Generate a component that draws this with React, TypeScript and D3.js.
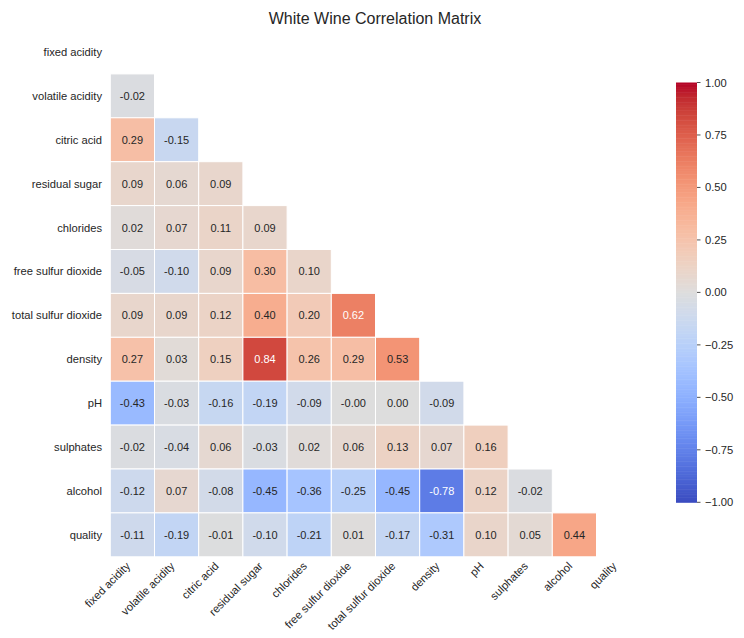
import React from "react";
import * as d3 from "d3";

// Variables of the white wine dataset, in matrix order
const variables: string[] = [
  "fixed acidity",
  "volatile acidity",
  "citric acid",
  "residual sugar",
  "chlorides",
  "free sulfur dioxide",
  "total sulfur dioxide",
  "density",
  "pH",
  "sulphates",
  "alcohol",
  "quality",
];

// Lower-triangle correlation coefficients, row by row (row i has i entries)
const rowVolatileAcidity = [-0.02];
const rowCitricAcid = [0.29, -0.15];
const rowResidualSugar = [0.09, 0.06, 0.09];
const rowChlorides = [0.02, 0.07, 0.11, 0.09];
const rowFreeSulfur = [-0.05, -0.10, 0.09, 0.30, 0.10];
const rowTotalSulfur = [0.09, 0.09, 0.12, 0.40, 0.20, 0.62];
const rowDensity = [0.27, 0.03, 0.15, 0.84, 0.26, 0.29, 0.53];
const rowPH = [-0.43, -0.03, -0.16, -0.19, -0.09, -0.0006, 0.002, -0.09];
const rowSulphates = [-0.02, -0.04, 0.06, -0.03, 0.02, 0.06, 0.13, 0.07, 0.16];
const rowAlcohol = [-0.12, 0.07, -0.08, -0.45, -0.36, -0.25, -0.45, -0.78, 0.12, -0.02];
const rowQuality = [-0.11, -0.19, -0.01, -0.10, -0.21, 0.01, -0.17, -0.31, 0.10, 0.05, 0.44];

const lowerRows: number[][] = [
  [],
  rowVolatileAcidity,
  rowCitricAcid,
  rowResidualSugar,
  rowChlorides,
  rowFreeSulfur,
  rowTotalSulfur,
  rowDensity,
  rowPH,
  rowSulphates,
  rowAlcohol,
  rowQuality,
];

const colorbarTicks: number[] = [1, 0.75, 0.5, 0.25, 0, -0.25, -0.5, -0.75, -1];

// Diverging "coolwarm" palette control points (Moreland)
const coolwarmStops: [number, number, number][] = [
  [59, 76, 192], [68, 90, 204], [77, 104, 215], [87, 117, 225],
  [98, 130, 234], [108, 142, 241], [119, 154, 247], [130, 165, 251],
  [141, 176, 254], [152, 185, 255], [163, 194, 255], [174, 201, 253],
  [184, 208, 249], [194, 213, 244], [204, 217, 238], [213, 219, 230],
  [221, 221, 221], [229, 216, 209], [236, 211, 197], [241, 204, 185],
  [245, 196, 173], [247, 187, 160], [247, 177, 148], [247, 166, 135],
  [244, 154, 123], [241, 141, 111], [236, 127, 99], [229, 112, 88],
  [222, 96, 77], [213, 80, 66], [203, 62, 56], [192, 40, 47],
  [180, 4, 38],
];

const coolwarm = d3
  .scaleLinear<string>()
  .domain(coolwarmStops.map((_, i) => -1 + (2 * i) / (coolwarmStops.length - 1)))
  .range(coolwarmStops.map(([r, g, b]) => `rgb(${r},${g},${b})`))
  .interpolate(d3.interpolateRgb)
  .clamp(true);

function luminance(color: string): number {
  const c = d3.rgb(color);
  const lin = (v: number) => {
    const s = v / 255;
    return s <= 0.03928 ? s / 12.92 : Math.pow((s + 0.055) / 1.055, 2.4);
  };
  return 0.2126 * lin(c.r) + 0.7152 * lin(c.g) + 0.0722 * lin(c.b);
}

const FONT = "'Liberation Sans', Arial, Helvetica, sans-serif";
const TEXT = "#262626";

export default function App() {
  const width = 744;
  const height = 638;

  const x = d3.scaleBand<string>().domain(variables).range([110.3, 640.7]);
  const y = d3.scaleBand<string>().domain(variables).range([30, 556.8]);

  const cbTop = 82.5;
  const cbBottom = 502.3;
  const cbLeft = 676;
  const cbWidth = 21;
  const cbScale = d3.scaleLinear().domain([-1, 1]).range([cbBottom, cbTop]);
  const cbSteps = d3.range(256).map((i) => -1 + (2 * i) / 255);
  const cbStepH = (cbBottom - cbTop) / 256;
  const cbFormat = d3.format(".2f");

  const cells: { row: string; col: string; value: number }[] = [];
  lowerRows.forEach((vals, i) => {
    vals.forEach((v, j) => {
      cells.push({ row: variables[i], col: variables[j], value: v });
    });
  });

  const bottom = y.range()[1];

  return (
    <div style={{ position: "absolute", left: 0, top: 0 }}>
      <svg width={width} height={height} style={{ display: "block", background: "#fff" }}>
        <text
          x={375}
          y={24}
          textAnchor="middle"
          fontFamily={FONT}
          fontSize={16}
          fill={TEXT}
        >
          White Wine Correlation Matrix
        </text>

        {/* heatmap cells */}
        <g>
          {cells.map((c) => {
            const fill = coolwarm(c.value);
            const textColor = luminance(fill) > 0.408 ? TEXT : "#ffffff";
            const cx = (x(c.col) as number) + x.bandwidth() / 2;
            const cy = (y(c.row) as number) + y.bandwidth() / 2;
            return (
              <g key={`${c.row}-${c.col}`}>
                <rect
                  x={x(c.col)}
                  y={y(c.row)}
                  width={x.bandwidth()}
                  height={y.bandwidth()}
                  fill={fill}
                  stroke="#ffffff"
                  strokeWidth={1}
                />
                <text
                  x={cx}
                  y={cy}
                  dy="0.36em"
                  textAnchor="middle"
                  fontFamily={FONT}
                  fontSize={11}
                  fill={textColor}
                >
                  {c.value.toFixed(2)}
                </text>
              </g>
            );
          })}
        </g>

        {/* row labels */}
        <g>
          {variables.map((v) => (
            <text
              key={v}
              x={102}
              y={(y(v) as number) + y.bandwidth() / 2}
              dy="0.36em"
              textAnchor="end"
              fontFamily={FONT}
              fontSize={11.2}
              fill={TEXT}
            >
              {v}
            </text>
          ))}
        </g>

        {/* column labels */}
        <g>
          {variables.map((v) => {
            const cx = (x(v) as number) + x.bandwidth() / 2;
            return (
              <text
                key={v}
                transform={`translate(${cx - 1.5},${bottom + 10}) rotate(-45)`}
                textAnchor="end"
                fontFamily={FONT}
                fontSize={11.2}
                fill={TEXT}
              >
                {v}
              </text>
            );
          })}
        </g>

        {/* colorbar */}
        <g>
          {cbSteps.map((s, i) => (
            <rect
              key={i}
              x={cbLeft}
              y={cbBottom - (i + 1) * cbStepH}
              width={cbWidth}
              height={cbStepH + 0.5}
              fill={coolwarm(s)}
            />
          ))}
          {colorbarTicks.map((t) => (
            <g key={t} transform={`translate(${cbLeft + cbWidth},${cbScale(t)})`}>
              <line x1={0} x2={3.5} stroke={TEXT} strokeWidth={0.8} />
              <text
                x={8}
                dy="0.36em"
                fontFamily={FONT}
                fontSize={11.2}
                fill={TEXT}
              >
                {cbFormat(t)}
              </text>
            </g>
          ))}
        </g>
      </svg>
    </div>
  );
}
